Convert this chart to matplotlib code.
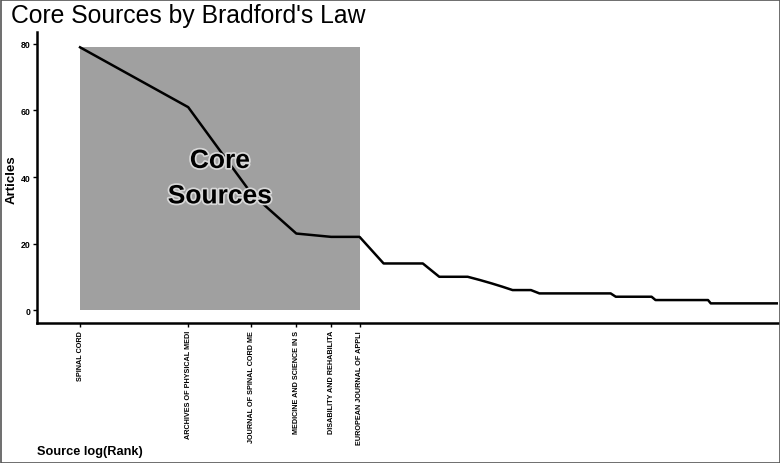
import numpy as np
import matplotlib
matplotlib.use('Agg')
import matplotlib.pyplot as plt
import matplotlib.patheffects as pe
from matplotlib.patches import Rectangle

plt.rcParams['font.family'] = ['Liberation Sans', 'DejaVu Sans']

# articles per source, sorted by rank (Bradford's law)
freq = [79, 61, 35, 23, 22, 22, 14, 14, 14, 10, 10, 10, 9, 8, 7, 6, 6, 6,
        5, 5, 5, 5, 5, 5, 5, 5, 5, 5, 5, 5,
        4, 4, 4, 4, 4, 4, 4, 4, 4,
        3, 3, 3, 3, 3, 3, 3, 3, 3, 3, 3, 3, 3, 3, 3, 3, 3,
        2, 2, 2, 2, 2, 2, 2, 2, 2, 2, 2, 2, 2, 2, 2, 2, 2, 2, 2, 2, 2,
        2, 2, 2, 2, 2, 2, 2, 2, 2, 2, 2, 2, 2]
core_sources = ['SPINAL CORD', 'ARCHIVES OF PHYSICAL MEDICINE AND REHABILITATION',
                'JOURNAL OF SPINAL CORD MEDICINE', 'MEDICINE AND SCIENCE IN SPORTS AND EXERCISE',
                'DISABILITY AND REHABILITATION', 'EUROPEAN JOURNAL OF APPLIED PHYSIOLOGY']

rank = np.arange(1, len(freq) + 1)
log_rank = np.log(rank)
n_core = len(core_sources)

fig = plt.figure(figsize=(7.8, 4.64), dpi=100)
ax = fig.add_axes([37 / 780, 1 - 324 / 464, (778 - 37) / 780, (324 - 33) / 464])

# core zone
ax.add_patch(Rectangle((0, 0), log_rank[n_core - 1], max(freq),
                       facecolor='#a0a0a0', edgecolor='none', zorder=1))
ax.plot(log_rank, freq, color='black', lw=1.8, zorder=3)
ax.text(log_rank[n_core - 1] / 2, max(freq) / 2, 'Core\nSources', ha='center', va='center',
        fontsize=19, fontweight='bold', linespacing=1.6, zorder=4,
        path_effects=[pe.withStroke(linewidth=2.5, foreground='#d8d8d8')])

ax.set_xlim(-0.276, 4.474)
ax.set_ylim(-3.9, 83.6)
ax.set_xticks(log_rank[:n_core])
ax.set_xticklabels([s[:25] for s in core_sources], rotation=90, fontsize=5.2,
                   fontweight='bold', va='top')
ax.set_yticks([0, 20, 40, 60, 80])
ax.tick_params(axis='y', labelsize=6.3, length=3, width=1, pad=1.5)
ax.tick_params(axis='x', length=3, width=1, pad=2)
for lbl in ax.get_yticklabels():
    lbl.set_fontweight('bold')

for side in ['top', 'right']:
    ax.spines[side].set_visible(False)
for side in ['left', 'bottom']:
    ax.spines[side].set_linewidth(1.8)

fig.text(12 / 780, 1 - 180 / 464, 'Articles', fontsize=9.5, fontweight='bold',
         rotation=90, ha='center', va='center')
fig.text(37 / 780, 1 - 452 / 464, 'Source log(Rank)', fontsize=9.2, fontweight='bold',
         ha='left', va='center')
fig.text(11 / 780, 1 - 16 / 464, "Core Sources by Bradford's Law", fontsize=17.8,
         ha='left', va='center')

# image frame
fig.add_artist(Rectangle((0.5 / 780, 0.5 / 464), 779 / 780, 463 / 464, transform=fig.transFigure,
                         fill=False, edgecolor='#555555', lw=1.2))

fig.savefig('out.png', dpi=100)
